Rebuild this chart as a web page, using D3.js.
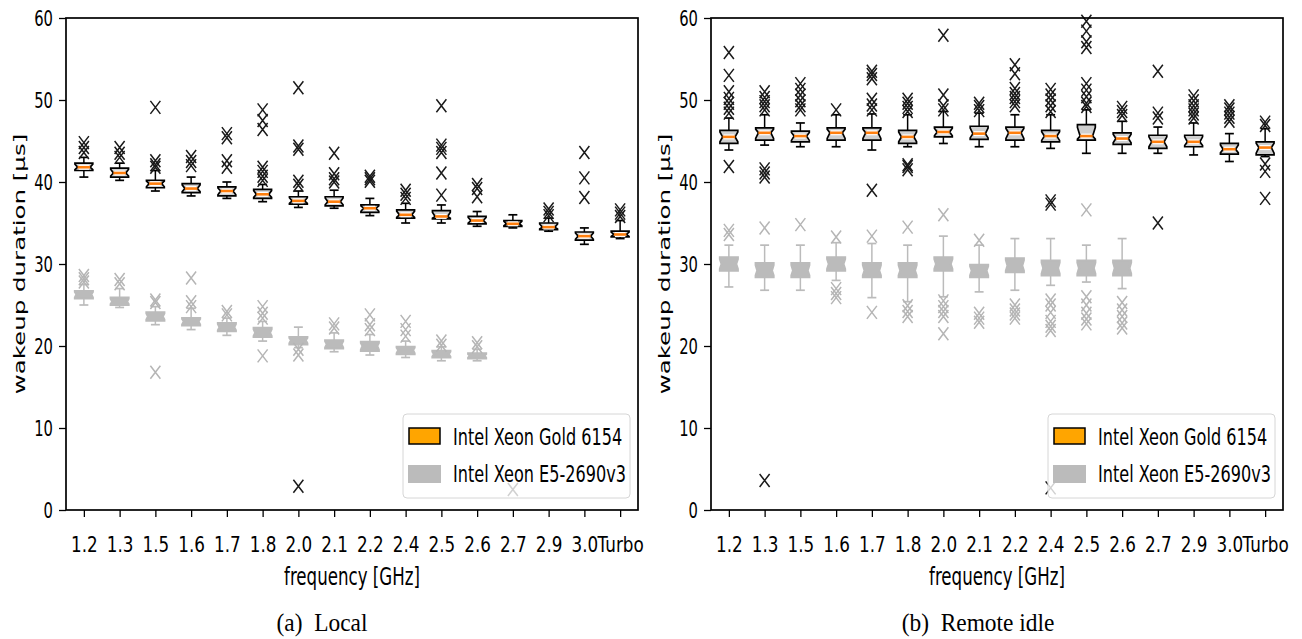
<!DOCTYPE html>
<html>
<head>
<meta charset="utf-8">
<script src="https://cdn.jsdelivr.net/npm/d3@7"></script>
<style>
body { margin: 0; background: #fff; }
svg { display: block; }
text { font-family: "DejaVu Sans", sans-serif; fill: #000; }
</style>
</head>
<body>
<script>
var freqs = ["1.2", "1.3", "1.5", "1.6", "1.7", "1.8", "2.0", "2.1", "2.2", "2.4", "2.5", "2.6", "2.7", "2.9", "3.0", "Turbo"];
var yTicks = [0, 10, 20, 30, 40, 50, 60];
var seriesNames = ["Intel Xeon Gold 6154", "Intel Xeon E5-2690v3"];

// [whisker low, q1, median, q3, whisker high]
var localGold = [
    [40.6, 41.4, 41.8, 42.3, 43.0], [40.2, 40.6, 41.1, 41.7, 42.3], [38.9, 39.3, 39.8, 40.2, 41.4],
    [38.3, 38.7, 39.2, 39.8, 40.6], [38.0, 38.3, 38.9, 39.4, 40.0], [37.6, 38.0, 38.5, 39.1, 39.7],
    [36.9, 37.3, 37.7, 38.2, 38.9], [36.8, 37.1, 37.6, 38.2, 39.0], [35.9, 36.3, 36.8, 37.2, 38.0],
    [35.0, 35.6, 36.0, 36.6, 37.4], [35.0, 35.5, 35.8, 36.5, 37.2], [34.6, 34.9, 35.3, 35.8, 36.4],
    [34.4, 34.6, 34.9, 35.3, 36.0], [34.0, 34.2, 34.5, 35.0, 35.6], [32.4, 32.9, 33.4, 33.9, 34.4],
    [33.1, 33.3, 33.6, 34.0, 35.3]
];
var localGoldFliers = [
    [43.6, 44.2, 44.8], [43.0, 43.5, 44.2], [41.8, 42.1, 42.6, 49.1], [42.0, 42.5, 43.1],
    [41.8, 42.6, 45.4, 45.9], [40.2, 40.7, 41.3, 41.8, 46.4, 47.5, 48.8], [2.9, 39.6, 40.1, 44.0, 44.4, 51.5],
    [40.0, 40.4, 41.0, 43.5], [40.1, 40.4, 40.7], [38.0, 38.5, 39.0], [38.4, 41.1, 43.6, 44.1, 44.5, 49.3],
    [38.2, 39.2, 39.7], [2.5], [35.9, 36.3, 36.7], [38.1, 40.5, 43.6], [35.8, 36.2, 36.6]
];
var localE5 = [
    [25.0, 25.8, 26.3, 26.7, 27.5], [24.7, 25.0, 25.4, 25.9, 27.0], [22.6, 23.1, 23.6, 24.1, 24.8],
    [22.0, 22.5, 23.0, 23.4, 24.6], [21.3, 21.8, 22.3, 22.8, 23.4], [20.6, 21.1, 21.6, 22.2, 23.0],
    [19.8, 20.2, 20.7, 21.1, 22.3], [19.3, 19.7, 20.2, 20.7, 21.6], [18.9, 19.4, 20.0, 20.5, 21.4],
    [18.6, 19.0, 19.5, 19.9, 20.6], [18.2, 18.6, 19.0, 19.4, 19.9], [18.2, 18.5, 18.8, 19.1, 19.6]
];
var localE5Fliers = [
    [27.8, 28.2, 28.6], [27.6, 28.1], [16.8, 25.3, 25.6], [24.8, 25.4, 28.3], [23.8, 24.2],
    [18.8, 23.4, 24.0, 24.8], [18.9, 19.6], [22.2, 22.7], [22.0, 22.6, 23.8], [21.2, 22.0, 23.0],
    [20.1, 20.6], [19.9, 20.4]
];
var remoteGold = [
    [43.9, 44.7, 45.5, 46.3, 47.8], [44.5, 45.1, 46.0, 46.6, 48.2], [44.3, 44.9, 45.6, 46.2, 47.2],
    [44.3, 45.1, 46.0, 46.6, 48.2], [43.9, 45.1, 46.0, 46.6, 48.3], [44.3, 44.7, 45.5, 46.3, 48.2],
    [44.7, 45.5, 46.1, 46.7, 48.6], [44.3, 45.2, 45.9, 46.8, 48.4], [44.3, 45.1, 46.0, 46.7, 48.2],
    [44.1, 44.9, 45.6, 46.3, 48.2], [43.5, 45.1, 45.6, 47.0, 48.8], [43.5, 44.6, 45.3, 46.0, 47.4],
    [43.5, 44.1, 44.9, 45.7, 46.7], [43.3, 44.3, 44.9, 45.7, 47.2], [42.5, 43.4, 44.0, 44.7, 45.9],
    [43.1, 43.3, 44.2, 44.9, 46.5]
];
var remoteGoldFliers = [
    [41.9, 48.4, 49.0, 49.6, 50.2, 51.0, 53.0, 55.8], [3.6, 40.6, 41.1, 41.6, 48.8, 49.3, 49.8, 50.3, 51.0],
    [48.8, 49.3, 49.9, 50.6, 51.3, 52.0], [48.8], [39.0, 48.8, 49.4, 50.1, 52.6, 53.1, 53.5],
    [41.5, 41.9, 42.1, 48.6, 49.1, 49.6, 50.1], [48.8, 49.3, 50.6, 57.9], [48.7, 49.2, 49.6],
    [49.3, 49.8, 50.3, 50.8, 51.4, 53.2, 54.3], [2.7, 37.3, 37.7, 48.6, 49.3, 50.0, 50.6, 51.3],
    [49.2, 49.6, 50.4, 51.2, 52.0, 56.4, 57.1, 58.4, 59.6], [48.1, 48.6, 49.1], [35.0, 47.8, 48.4, 53.5],
    [47.8, 48.3, 48.8, 49.3, 49.9, 50.5], [47.4, 47.9, 48.4, 48.9, 49.3], [38.0, 41.3, 42.2, 46.9, 47.3]
];
var remoteE5 = [
    [27.2, 29.2, 30.0, 30.8, 32.3], [26.8, 28.4, 29.2, 30.1, 32.3], [26.8, 28.4, 29.2, 30.1, 32.3],
    [28.0, 29.2, 30.0, 30.8, 32.6], [25.9, 28.4, 29.2, 30.1, 32.5], [25.4, 28.4, 29.2, 30.1, 32.3],
    [26.0, 29.2, 30.0, 30.8, 33.4], [26.6, 28.4, 29.2, 29.9, 32.3], [26.8, 29.0, 29.8, 30.7, 33.1],
    [27.4, 28.6, 29.5, 30.4, 33.1], [27.8, 28.6, 29.5, 30.4, 32.3], [27.0, 28.6, 29.5, 30.4, 33.1]
];
var remoteE5Fliers = [
    [33.6, 34.1], [34.4], [34.8], [25.9, 26.4, 27.0, 33.3], [24.1, 33.4], [23.6, 24.2, 24.9, 34.5],
    [21.5, 23.6, 24.2, 24.8, 25.5, 36.0], [22.9, 23.4, 24.0, 32.9], [23.4, 23.9, 24.4, 25.0],
    [21.9, 22.4, 23.0, 24.1, 25.0, 25.6], [22.7, 23.3, 24.0, 25.0, 26.0, 36.6], [22.2, 22.8, 23.6, 24.4, 25.3]
];

var width = 1302, height = 639;
var squeeze = 0.68;   // the figure is squashed horizontally
var plotTop = 18, plotBottom = 510;

var panels = [
    { left: 66, right: 638, gold: localGold, goldFliers: localGoldFliers, e5: localE5, e5Fliers: localE5Fliers,
      caption: "(a)\u00a0\u00a0Local", captionX: 322 },
    { left: 711, right: 1283, gold: remoteGold, goldFliers: remoteGoldFliers, e5: remoteE5, e5Fliers: remoteE5Fliers,
      caption: "(b)\u00a0\u00a0Remote idle", captionX: 978 }
];

var goldStyle = { fill: "#cfcfcf", stroke: "#000", flier: "#1a1a1a", median: "#ff7f0e", notch: 0.3, width: 1.7 };
var e5Style = { fill: "#bbbbbb", stroke: "#bbbbbb", flier: "#b5b5b5", median: null, notch: 0.18, width: 2.2 };

var svg = d3.select("body").append("svg")
    .attr("width", width)
    .attr("height", height);

var y = d3.scaleLinear()
    .domain([0, 60])
    .range([plotBottom, plotTop]);

var line = d3.line();

function sq(tx, ty, s) {
    return "translate(" + tx + "," + ty + ") scale(" + (s || squeeze) + ",1)";
}

function drawBoxes(g, x, stats, fliers, style) {
    var hw = x(1.25) - x(1);   // half of a 0.5 wide box
    var inset = hw * style.notch;
    stats.forEach(function(s, i) {
        var cx = x(i + 1);
        var wlo = s[0], q1 = s[1], med = s[2], q3 = s[3], whi = s[4];
        var nlo = med - 0.75 * (med - q1), nhi = med + 0.75 * (q3 - med);

        g.append("line").attr("x1", cx).attr("x2", cx).attr("y1", y(q3)).attr("y2", y(whi))
            .attr("stroke", style.stroke).attr("stroke-width", 1.5);
        g.append("line").attr("x1", cx).attr("x2", cx).attr("y1", y(q1)).attr("y2", y(wlo))
            .attr("stroke", style.stroke).attr("stroke-width", 1.5);
        [wlo, whi].forEach(function(v) {
            g.append("line").attr("x1", cx - hw / 2).attr("x2", cx + hw / 2).attr("y1", y(v)).attr("y2", y(v))
                .attr("stroke", style.stroke).attr("stroke-width", 1.7);
        });

        var pts = [
            [cx - hw, y(q1)], [cx - hw, y(nlo)], [cx - hw + inset, y(med)], [cx - hw, y(nhi)], [cx - hw, y(q3)],
            [cx + hw, y(q3)], [cx + hw, y(nhi)], [cx + hw - inset, y(med)], [cx + hw, y(nlo)], [cx + hw, y(q1)]
        ];
        g.append("path").attr("d", line(pts) + "Z")
            .attr("fill", style.fill).attr("stroke", style.stroke).attr("stroke-width", style.width)
            .attr("stroke-linejoin", "miter");

        if (style.median) {
            g.append("line").attr("x1", cx - hw + inset + 1).attr("x2", cx + hw - inset - 1)
                .attr("y1", y(med)).attr("y2", y(med))
                .attr("stroke", "#fff").attr("stroke-width", 5);
            g.append("line").attr("x1", cx - hw + inset).attr("x2", cx + hw - inset)
                .attr("y1", y(med)).attr("y2", y(med))
                .attr("stroke", style.median).attr("stroke-width", 2.6);
        }

        fliers[i].forEach(function(v) {
            g.append("path")
                .attr("transform", "translate(" + cx + "," + y(v) + ")")
                .attr("d", "M-5,-6.5L5,6.5M-5,6.5L5,-6.5")
                .attr("fill", "none")
                .attr("stroke", style.flier)
                .attr("stroke-width", 1.5);
        });
    });
}

function customYAxis(a) {
    a.select(".domain").remove();
    a.attr("font-family", null).attr("font-size", null);
    a.selectAll(".tick line").attr("stroke", "#000").attr("stroke-width", 1.3);
    a.selectAll(".tick text")
        .attr("x", null).attr("dy", null)
        .attr("transform", sq(-13, 7.5, 0.72))
        .attr("font-size", 20.5);
}

function customXAxis(a) {
    a.select(".domain").remove();
    a.attr("font-family", null).attr("font-size", null);
    a.selectAll(".tick line").attr("stroke", "#000").attr("stroke-width", 1.3);
    a.selectAll(".tick text")
        .attr("y", null).attr("dy", null)
        .attr("transform", sq(0, 42, 0.8))
        .attr("font-size", 21);
}

panels.forEach(function(p) {
    var x = d3.scaleLinear()
        .domain([0.5, freqs.length + 0.5])
        .range([p.left, p.right]);

    var g = svg.append("g");

    drawBoxes(g, x, p.gold, p.goldFliers, goldStyle);
    drawBoxes(g, x, p.e5, p.e5Fliers, e5Style);

    var yAxis = d3.axisLeft(y).tickValues(yTicks).tickSize(7).tickFormat(d3.format("d"));
    g.append("g")
        .attr("transform", "translate(" + p.left + ",0)")
        .call(yAxis)
        .call(customYAxis);

    var xAxis = d3.axisBottom(x)
        .tickValues(d3.range(1, freqs.length + 1))
        .tickSize(7)
        .tickFormat(function(d) { return freqs[d - 1]; });
    g.append("g")
        .attr("transform", "translate(0," + plotBottom + ")")
        .call(xAxis)
        .call(customXAxis);

    g.append("rect")
        .attr("x", p.left).attr("y", plotTop)
        .attr("width", p.right - p.left).attr("height", plotBottom - plotTop)
        .attr("fill", "none").attr("stroke", "#000").attr("stroke-width", 1.7);

    // legend
    var lx = p.right - 235, ly = 414;
    var legend = g.append("g");
    legend.append("rect")
        .attr("x", lx).attr("y", ly).attr("width", 227).attr("height", 84)
        .attr("rx", 4)
        .attr("fill", "#fff").attr("fill-opacity", 0.8)
        .attr("stroke", "#d6d6d6").attr("stroke-width", 1);
    legend.append("rect")
        .attr("x", lx + 6).attr("y", ly + 14).attr("width", 31).attr("height", 16)
        .attr("fill", "#ffa500").attr("stroke", "#000").attr("stroke-width", 1.5);
    legend.append("rect")
        .attr("x", lx + 5).attr("y", ly + 51).attr("width", 33).attr("height", 18)
        .attr("fill", "#bbbbbb");
    seriesNames.forEach(function(name, i) {
        legend.append("text")
            .attr("transform", sq(lx + 50, ly + 31 + i * 37, 0.7))
            .attr("font-size", 23)
            .text(name);
    });

    // axis labels
    g.append("text")
        .attr("transform", sq((p.left + p.right) / 2, 585))
        .attr("text-anchor", "middle")
        .attr("font-size", 24.5)
        .text("frequency [GHz]");

    g.append("text")
        .attr("transform", sq(p.left - 41, (plotTop + plotBottom) / 2) + " rotate(-90)")
        .attr("text-anchor", "middle")
        .attr("font-size", 24.5)
        .text("wakeup duration [\u00b5s]");

    g.append("text")
        .attr("transform", "translate(" + p.captionX + ",631) scale(0.9,1)")
        .attr("text-anchor", "middle")
        .style("font-family", "'Liberation Serif', serif")
        .attr("font-size", 26)
        .text(p.caption);
});
</script>
</body>
</html>
